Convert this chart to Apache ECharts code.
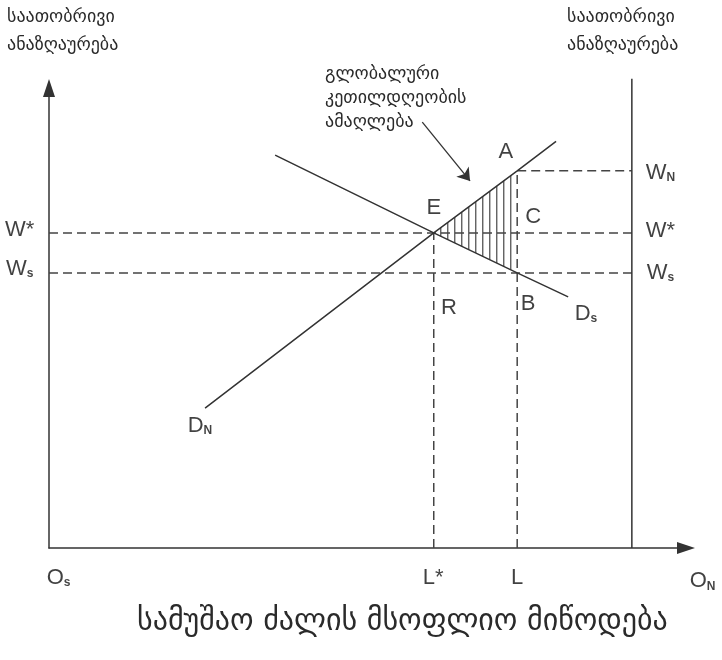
<!DOCTYPE html>
<html>
<head>
<meta charset="utf-8">
<title>labour supply</title>
<script src="https://cdn.jsdelivr.net/npm/echarts@6/dist/echarts.min.js"></script>
<style>html,body{margin:0;background:#fff}#main{width:722px;height:660px}</style>
</head>
<body>
<div id="main"></div>
<script>
// labour on x (0..100), hourly wage on y (0..100)
const dN = [[24.5, 30.4], [60.4, 68.5], [73.5, 82.0], [79.6, 88.4]];
const dS = [[35.5, 85.4], [60.4, 68.5], [73.5, 59.8], [81.5, 54.6]];
const pointE = [60.4, 68.5];
const pointA = [73.5, 82.0];
const pointB = [73.5, 59.8];
const wStar = 68.5, wS = 59.8, wN = 82.0;
const lStar = 60.4, lL = 73.5;
const oN = 91.5, oNTop = 102.0;
const pointer = [[58.6, 92.6], [66.1, 79.8]];

const labelNames = ['A', 'E', 'C', 'R', 'B', 'D_s', 'D_N', 'W*', 'W_s', 'W_N', 'W*', 'W_s', 'O_s', 'L*', 'L', 'O_N'];
const labelPos = [
  [71.7, 86.3], [60.4, 74.1], [76.0, 72.2], [62.8, 52.4], [75.2, 53.3], [84.3, 51.1], [23.7, 26.7],
  [-4.6, 69.3], [-4.6, 60.9], [96.0, 81.7], [96.0, 69.1], [96.0, 60.0],
  [1.5, -6.3], [60.3, -6.3], [73.5, -6.3], [102.6, -7.0]
];

const axisTitle = 'საათობრივი\nანაზღაურება';
const noteText = 'გლობალური\nკეთილდღეობის\nამაღლება';
const caption = 'სამუშაო ძალის მსოფლიო მიწოდება';

const dashSegments = [
  [[0, wStar], [oN, wStar]],
  [[0, wS], [oN, wS]],
  [[lL, wN], [oN, wN]],
  [[lStar, 0], [lStar, wStar]],
  [[lL, 0], [lL, wN]]
];

const chart = echarts.init(document.getElementById('main'));
const ink = '#333';
const geoFont = '"DejaVu Sans", sans-serif';

const axisCommon = {
  type: 'value', min: 0, max: 100,
  splitLine: { show: false }, axisTick: { show: false }, axisLabel: { show: false },
  axisLine: { show: true, symbol: ['none', 'triangle'], symbolSize: [12, 18], lineStyle: { color: ink, width: 1.5 } }
};

const series = [];
dashSegments.forEach(function (seg) {
  series.push({
    type: 'line', data: seg, symbol: 'none', silent: true,
    lineStyle: { color: '#444', width: 1.5, type: [9, 5] }
  });
});
series.push({
  type: 'line', data: [[oN, 0], [oN, oNTop]], symbol: 'none', clip: false,
  lineStyle: { color: ink, width: 1.5 }
});
series.push({ type: 'line', data: dN, symbol: 'none', lineStyle: { color: ink, width: 1.5 } });
series.push({ type: 'line', data: dS, symbol: 'none', lineStyle: { color: ink, width: 1.5 } });
// hatched triangle E-A-B
series.push({
  type: 'custom', data: [[0, 0]], clip: false,
  renderItem: function (params, api) {
    const e = api.coord(pointE), a = api.coord(pointA), b = api.coord(pointB);
    const kids = [];
    for (let x = e[0] + 7; x <= a[0] + 0.5; x += 7) {
      const t = (x - e[0]) / (a[0] - e[0]);
      kids.push({
        type: 'line',
        shape: { x1: x, y1: e[1] + t * (a[1] - e[1]), x2: x, y2: e[1] + t * (b[1] - e[1]) },
        style: { stroke: '#555', lineWidth: 1.3 }
      });
    }
    return { type: 'group', children: kids };
  }
});
series.push({
  type: 'lines', coordinateSystem: 'cartesian2d', data: [{ coords: pointer }],
  symbol: ['none', 'arrow'], symbolSize: 12,
  lineStyle: { color: ink, width: 1.3, opacity: 1 }
});
series.push({
  type: 'scatter', symbolSize: 0, clip: false, silent: true,
  data: labelPos.map(function (p, i) { return { value: p, name: labelNames[i] }; }),
  label: {
    show: true, position: 'inside',
    formatter: function (p) {
      const m = p.name.match(/^(.+)_(.+)$/);
      return m ? '{m|' + m[1] + '}{s|' + m[2] + '}' : '{m|' + p.name + '}';
    },
    rich: {
      m: { fontFamily: '"Liberation Sans", Arial, sans-serif', fontSize: 22, lineHeight: 24, color: '#111', verticalAlign: 'bottom' },
      s: { fontFamily: '"Liberation Sans", Arial, sans-serif', fontSize: 12, fontWeight: 'bold', lineHeight: 10, color: '#111', verticalAlign: 'bottom' }
    }
  }
});

chart.setOption({
  animation: false,
  backgroundColor: '#fff',
  grid: { left: 49, right: 36, top: 88, bottom: 112 },
  xAxis: axisCommon,
  yAxis: axisCommon,
  graphic: [
    { type: 'text', left: 7, top: 3, style: { text: axisTitle, font: '18px ' + geoFont, lineHeight: 28, fill: '#2a2a2a' } },
    { type: 'text', left: 567, top: 3, style: { text: axisTitle, font: '18px ' + geoFont, lineHeight: 28, fill: '#2a2a2a' } },
    { type: 'text', left: 325, top: 62, style: { text: noteText, font: '18px ' + geoFont, lineHeight: 24, fill: '#2a2a2a' } },
    { type: 'text', left: 137, top: 607, style: { text: caption, font: '30px ' + geoFont, fill: '#2a2a2a' } }
  ],
  series: series
});
</script>
</body>
</html>
